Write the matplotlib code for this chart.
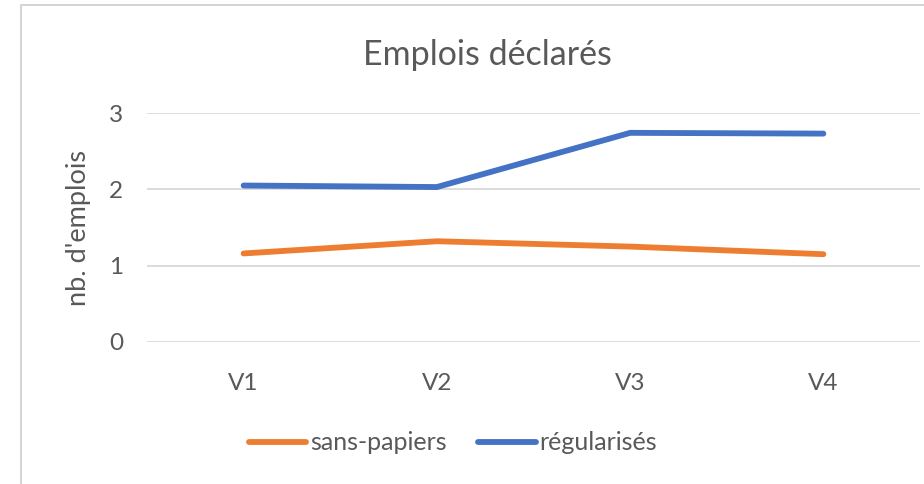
import matplotlib
matplotlib.use("Agg")
import matplotlib.pyplot as plt
from matplotlib.patches import Rectangle

categories = ["V1", "V2", "V3", "V4"]
sans_papiers = [1.16, 1.32, 1.25, 1.15]
regularises = [2.05, 2.03, 2.74, 2.73]
series_labels = ["sans-papiers", "régularisés"]
title = "Emplois déclarés"
ylabel = "nb. d'emplois"

plt.rcParams['font.family'] = ['Lato', 'DejaVu Sans']
W, H = 924, 484
fig = plt.figure(figsize=(W/100, H/100), dpi=100)
fig.patch.set_facecolor("white")

# chart border
fig.add_artist(Rectangle((21/W, -0.1), 1.2, 1 - 5/H + 0.1, transform=fig.transFigure,
                         fill=False, edgecolor="#d0d0d0", linewidth=1.3))

ax = fig.add_axes([147/W, 1 - 342/H, (920-147)/W, (342-113)/H])
x = list(range(len(categories)))
ax.plot(x, sans_papiers, color="#ED7D31", lw=4.2, solid_capstyle="round", solid_joinstyle="round", label=series_labels[0])
ax.plot(x, regularises, color="#4472C4", lw=4.2, solid_capstyle="round", solid_joinstyle="round", label=series_labels[1])
ax.set_xlim(-0.5, 3.5)
ax.set_ylim(0, 3)
ax.set_yticks([0, 1, 2, 3])
ax.set_xticks(x)
ax.set_xticklabels(categories)
ax.grid(axis="y", color="#d9d9d9", lw=1.3)
ax.set_axisbelow(True)
for s in ax.spines.values():
    s.set_visible(False)
ax.tick_params(length=0, labelsize=17.5, labelcolor="#595959")
ax.tick_params(axis="y", pad=17)
ax.tick_params(axis="x", pad=22)
ax.set_ylabel(ylabel, fontsize=19.5, color="#595959")
ax.yaxis.set_label_coords((91-147)/(920-147), 0.5)

fig.text(487/W, 1 - 55/H, title, ha="center", va="center", fontsize=24.5, color="#595959")

leg = fig.legend(loc="center", bbox_to_anchor=(453/W, 1 - 443/H), ncol=2, frameon=False,
                 fontsize=18, handlelength=2.3, handletextpad=0.16, columnspacing=1.25,
                 labelcolor="#595959")
fig.savefig("out.png", dpi=100)
